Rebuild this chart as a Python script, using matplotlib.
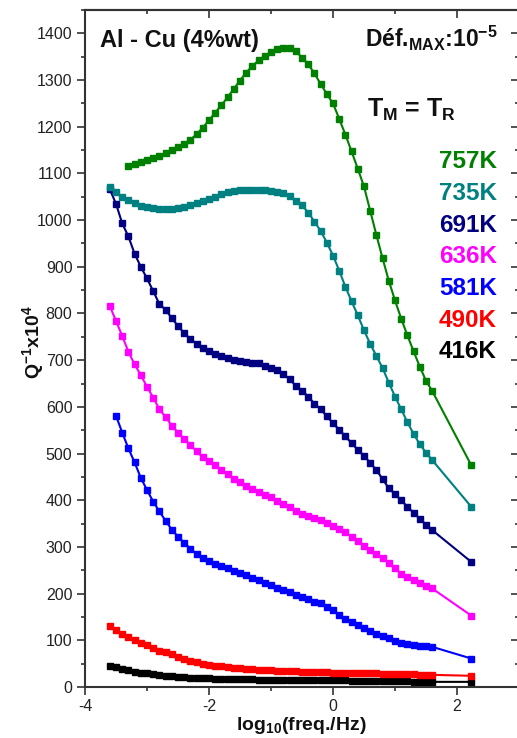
import matplotlib
matplotlib.use('Agg')
import matplotlib.pyplot as plt
from matplotlib.ticker import MultipleLocator

plt.rcParams['font.family'] = ['Liberation Sans', 'DejaVu Sans']
plt.rcParams['mathtext.fontset'] = 'custom'
plt.rcParams['mathtext.rm'] = 'Liberation Sans:bold'
plt.rcParams['mathtext.bf'] = 'Liberation Sans:bold'
plt.rcParams['mathtext.it'] = 'Liberation Sans:bold'
plt.rcParams['mathtext.default'] = 'bf'
plt.rcParams['axes.unicode_minus'] = False

# log10 of the measuring frequency: sweep from -3.6 to 1.6, then one last point
log_freq = [round(-3.6 + 0.1 * i, 1) for i in range(53)] + [2.23]

# Q^-1 x 10^4, one list per temperature
q_757 = [1116, 1120, 1124, 1128, 1132, 1137, 1143, 1150, 1156, 1163,
         1172, 1184, 1198, 1214, 1230, 1246, 1263, 1281, 1299, 1316,
         1330, 1342, 1352, 1360, 1366, 1369, 1368, 1362, 1348, 1334,
         1314, 1292, 1270, 1250, 1217, 1183, 1147, 1110, 1072, 1020,
         968, 918, 870, 828, 789, 753, 719, 686, 656, 634,
         475]
q_735 = [1071, 1060, 1050, 1043, 1036, 1030, 1027, 1025, 1023, 1023,
         1024, 1026, 1029, 1033, 1037, 1041, 1046, 1050, 1055, 1060,
         1063, 1065, 1065, 1065, 1065, 1064, 1063, 1061, 1057, 1051,
         1040, 1032, 1016, 997, 977, 952, 924, 892, 857, 826,
         796, 764, 735, 709, 683, 652, 622, 595, 567, 542,
         520, 502, 486,
         386]
q_691 = [1066, 1035, 993, 965, 928, 900, 875, 848, 820, 808,
         790, 773, 758, 745, 735, 727, 720, 714, 709, 704,
         700, 698, 696, 695, 693, 688, 684, 678, 670, 659,
         645, 635, 622, 607, 595, 580, 565, 551, 537, 522,
         508, 495, 480, 465, 445, 426, 413, 400, 386, 373,
         360, 348, 336,
         268]
q_636 = [816, 784, 752, 718, 691, 668, 643, 620, 595, 578,
         560, 545, 531, 518, 505, 492, 483, 475, 465, 456,
         446, 438, 431, 425, 418, 412, 406, 398, 392, 386,
         378, 371, 366, 362, 358, 351, 344, 338, 331, 322,
         312, 303, 294, 285, 276, 265, 254, 243, 236, 229,
         222, 216, 211,
         153]
q_581 = [581, 545, 511, 481, 448, 422, 397, 376, 356, 337,
         322, 309, 296, 285, 277, 270, 264, 259, 254, 249,
         244, 239, 234, 229, 223, 218, 213, 208, 203, 198,
         193, 188, 183, 179, 172, 165, 155, 146, 139, 132,
         126, 120, 114, 109, 104, 99, 95, 92, 90, 88,
         87, 86,
         61]
q_490 = [131, 122, 113, 107, 101, 95, 89, 83, 78, 74,
         70, 65, 60, 56, 53, 50, 48, 46, 44, 43,
         41, 40, 39, 38, 37, 36, 36, 35, 35, 34,
         34, 33, 33, 32, 32, 32, 31, 31, 30, 30,
         30, 29, 29, 29, 28, 28, 28, 27, 27, 27,
         26, 26, 26,
         24]
q_416 = [46, 42, 39, 36, 33, 31, 29, 27, 26, 24,
         23, 22, 21, 20, 19, 19, 19, 18, 18, 18,
         17, 17, 17, 17, 16, 16, 16, 16, 16, 15,
         15, 15, 15, 15, 14, 14, 14, 14, 14, 13,
         13, 13, 13, 12, 12, 12, 12, 12, 12, 11,
         11, 11, 11,
         11]

temps = ['757K', '735K', '691K', '636K', '581K', '490K', '416K']
curves = [q_757, q_735, q_691, q_636, q_581, q_490, q_416]
colors = ['#008000', '#008080', '#000080', '#ff00ff', '#0000ff', '#ff0000', '#000000']

fig = plt.figure(figsize=(5.17, 7.38), dpi=100)
# right spine sits just past the picture edge, as in the original
ax = fig.add_axes([85 / 517, 51 / 738, 434 / 517, 677 / 738])

# draw from the lowest curve up
for label, vals, c in reversed(list(zip(temps, curves, colors))):
    x = log_freq[len(log_freq) - len(vals):]
    ax.plot(x, vals, '-s', color=c, lw=1.5, ms=4.0, mec=c, mfc=c)

ax.set_xlim(-4, 3)
ax.set_ylim(0, 1450)
ax.xaxis.set_major_locator(MultipleLocator(2))
ax.xaxis.set_minor_locator(MultipleLocator(1))
ax.yaxis.set_major_locator(MultipleLocator(100))
ax.yaxis.set_minor_locator(MultipleLocator(50))

frame = '#333333'
for s in ax.spines.values():
    s.set_linewidth(1.5)
    s.set_color(frame)
ax.tick_params(which='both', direction='out', width=1.2, color=frame,
               labelsize=11.5, labelcolor='#222222')
ax.tick_params(which='major', length=5.8)
ax.tick_params(which='minor', length=2.9)
ax.tick_params(axis='y', pad=3.2)
ax.tick_params(axis='x', pad=3.0)

# top and right axes: ticks pointing inwards, no labels
top = ax.secondary_xaxis('top')
top.xaxis.set_major_locator(MultipleLocator(2))
top.xaxis.set_minor_locator(MultipleLocator(1))
right = ax.secondary_yaxis('right')
right.yaxis.set_major_locator(MultipleLocator(100))
right.yaxis.set_minor_locator(MultipleLocator(50))
for sec in (top, right):
    sec.tick_params(which='both', direction='in', width=1.2, color=frame,
                    labeltop=False, labelright=False)
    sec.tick_params(which='major', length=5.8)
    sec.tick_params(which='minor', length=3.2)
    for s in sec.spines.values():
        s.set_linewidth(1.5)
        s.set_color(frame)

tr = ax.transAxes
ax.text(0.0346, 0.9453, 'Al - Cu (4%wt)', transform=tr, fontsize=17,
        fontweight='bold', ha='left', va='baseline', color='#111111')
ax.text(0.951, 0.9453, 'Déf.$_{MAX}$:10$^{-5}$', transform=tr, fontsize=16.5,
        fontweight='bold', ha='right', va='baseline', color='#111111')
ax.text(0.65, 0.842, 'T$_{M}$ = T$_{R}$', transform=tr, fontsize=18,
        fontweight='bold', ha='left', va='baseline', color='#111111')

label_base = [168, 200, 232, 263, 295, 327, 358]
for label, c, py in zip(temps, colors, label_base):
    ax.text(0.949, (687 - py) / 677, label, transform=tr, fontsize=17.5,
            fontweight='bold', ha='right', va='baseline', color=c)

fig.text(33 / 517, 1 - 342 / 738, 'Q$^{-1}$x10$^{4}$', rotation=90,
         fontsize=14, fontweight='bold', ha='center', va='center', color='#111111')
fig.text(301 / 517, 1 - 726 / 738, 'log$_{10}$(freq./Hz)',
         fontsize=14, fontweight='bold', ha='center', va='center', color='#111111')

fig.savefig('out.png', dpi=100)
